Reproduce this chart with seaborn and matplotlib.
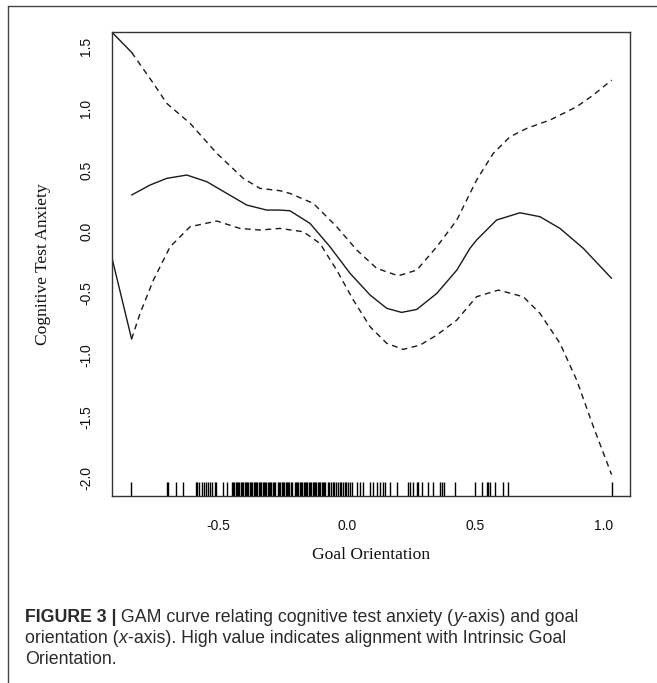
import matplotlib
matplotlib.use("Agg")
import matplotlib.pyplot as plt
from matplotlib.lines import Line2D
import seaborn as sns
import pandas as pd

# ---------------- data ----------------
fit_x = [-0.838, -0.766, -0.701, -0.623, -0.545, -0.467, -0.390, -0.312, -0.260, -0.221,
         -0.143, -0.065, 0.013, 0.091, 0.156, 0.214, 0.273, 0.351, 0.429, 0.480,
         0.506, 0.584, 0.675, 0.753, 0.831, 0.922, 1.032]
fit_y = [0.298, 0.379, 0.433, 0.460, 0.406, 0.311, 0.217, 0.176, 0.176, 0.170,
         0.068, -0.122, -0.337, -0.513, -0.621, -0.654, -0.630, -0.500, -0.311, -0.135,
         -0.067, 0.095, 0.154, 0.122, 0.027, -0.135, -0.378]

upper_x = [-0.9155, -0.838, -0.753, -0.701, -0.610, -0.506, -0.403, -0.338, -0.260, -0.221,
           -0.130, -0.039, 0.039, 0.117, 0.201, 0.273, 0.351, 0.429, 0.506, 0.571,
           0.636, 0.701, 0.792, 0.896, 0.961, 1.032]
upper_y = [1.62, 1.455, 1.203, 1.041, 0.879, 0.636, 0.433, 0.352, 0.333, 0.311,
           0.230, 0.041, -0.148, -0.297, -0.357, -0.311, -0.122, 0.095, 0.419, 0.636,
           0.770, 0.838, 0.906, 1.014, 1.109, 1.23]

lower_x = [-0.9155, -0.838, -0.805, -0.753, -0.688, -0.610, -0.506, -0.416, -0.338, -0.260,
           -0.169, -0.104, -0.039, 0.026, 0.091, 0.156, 0.220, 0.286, 0.351, 0.429,
           0.506, 0.591, 0.688, 0.753, 0.831, 0.896, 0.961, 1.032]
lower_y = [-0.203, -0.87, -0.662, -0.392, -0.122, 0.041, 0.087, 0.027, 0.014, 0.027,
           0.0, -0.095, -0.311, -0.554, -0.77, -0.905, -0.954, -0.919, -0.838, -0.716,
           -0.527, -0.473, -0.527, -0.662, -0.905, -1.203, -1.581, -1.97]

rug_x = [-0.840, -0.701, -0.695, -0.665, -0.637, -0.587, -0.582, -0.574, -0.565, -0.556,
         -0.548, -0.539, -0.533, -0.526, -0.513, -0.509, -0.481, -0.467,
         -0.448, -0.443, -0.438, -0.433, -0.428, -0.423, -0.418, -0.413, -0.408, -0.403,
         -0.398, -0.393, -0.388, -0.383, -0.378, -0.373, -0.368, -0.363, -0.358, -0.353,
         -0.348, -0.343, -0.338, -0.333, -0.328, -0.323, -0.318, -0.313, -0.308, -0.303,
         -0.298, -0.293, -0.288, -0.283, -0.278, -0.268, -0.263, -0.258, -0.253, -0.248,
         -0.243, -0.238, -0.233, -0.228, -0.223, -0.218, -0.213, -0.203, -0.198, -0.193,
         -0.188, -0.183, -0.178, -0.173, -0.168, -0.163, -0.158, -0.153, -0.148, -0.143,
         -0.138, -0.133, -0.128, -0.123, -0.118, -0.113, -0.108, -0.103, -0.098, -0.093,
         -0.088, -0.083, -0.073, -0.068, -0.063, -0.053, -0.048, -0.043, -0.033, -0.028,
         -0.023, -0.013, -0.008, -0.003, 0.007, 0.012,
         0.019, 0.039, 0.052, 0.065, 0.091, 0.104, 0.117, 0.130, 0.143, 0.149,
         0.169, 0.195, 0.240, 0.247, 0.259, 0.273, 0.279, 0.292, 0.318, 0.337,
         0.363, 0.370, 0.379, 0.422, 0.500, 0.526, 0.545, 0.552, 0.558, 0.578,
         0.610, 0.630, 1.032]

x_ticks = [-0.5, 0.0, 0.5, 1.0]
x_tick_labels = ["-0.5", "0.0", "0.5", "1.0"]
y_ticks = [-2.0, -1.5, -1.0, -0.5, 0.0, 0.5, 1.0, 1.5]
y_tick_labels = ["-2.0", "-1.5", "-1.0", "-0.5", "0.0", "0.5", "1.0", "1.5"]

x_label = "Goal Orientation"
y_label = "Cognitive Test Anxiety"
caption_lines = [
    [("FIGURE 3 |", "bold", "normal"), (" GAM curve relating cognitive test anxiety (", "normal", "normal"),
     ("y", "normal", "italic"), ("-axis) and goal", "normal", "normal")],
    [("orientation (", "normal", "normal"), ("x", "normal", "italic"),
     ("-axis). High value indicates alignment with Intrinsic Goal", "normal", "normal")],
    [("Orientation.", "normal", "normal")],
]

# ---------------- style ----------------
sns.set_theme(style="white")
plt.rcParams["font.family"] = ["Liberation Sans", "DejaVu Sans"]
plt.rcParams["axes.unicode_minus"] = False

W, H = 657, 683
fig = plt.figure(figsize=(W / 100, H / 100), dpi=100)
fig.patch.set_facecolor("white")

L, R, T, B = 111.7, 630.0, 32.0, 496.0
ax = fig.add_axes([L / W, 1 - B / H, (R - L) / W, (B - T) / H])
ax.set_facecolor("white")

line_col = "#1a1a1a"
fit_df = pd.DataFrame({"x": fit_x, "y": fit_y})
up_df = pd.DataFrame({"x": upper_x, "y": upper_y})
lo_df = pd.DataFrame({"x": lower_x, "y": lower_y})

sns.lineplot(data=fit_df, x="x", y="y", ax=ax, color=line_col, lw=1.0,
             sort=False, estimator=None)
for df in (up_df, lo_df):
    # first (entry) segment drawn solid, rest dashed
    sns.lineplot(data=df.iloc[:2], x="x", y="y", ax=ax, color=line_col, lw=1.0,
                 sort=False, estimator=None)
    sns.lineplot(data=df.iloc[1:], x="x", y="y", ax=ax, color=line_col, lw=1.0,
                 sort=False, estimator=None)
    ax.lines[-1].set_dashes((4.2, 3.2))

sns.rugplot(x=rug_x, ax=ax, height=0.031, color="black", lw=0.9, expand_margins=False)

ax.set_xlim(-0.9155, 1.1037)
ax.set_ylim(-2.143, 1.62)
ax.set_xticks(x_ticks)
ax.set_xticklabels(x_tick_labels)
ax.set_yticks(y_ticks)
ax.set_yticklabels(y_tick_labels, rotation=90, va="center")
ax.set_xlabel("")
ax.set_ylabel("")

for s in ax.spines.values():
    s.set_visible(True)
    s.set_color("#333333")
    s.set_linewidth(1.0)

ax.tick_params(axis="both", direction="out", length=5.2, width=0.9, color="#333333",
               labelsize=10, labelcolor="#111111")
ax.tick_params(axis="x", pad=11)
ax.tick_params(axis="y", pad=8.2)

fig.text(371 / W, 1 - 555 / H, x_label, ha="center", va="center",
         fontfamily="Liberation Serif", fontsize=12.6, color="#111111")
fig.text(43 / W, 1 - 264 / H, y_label, ha="center", va="center", rotation=90,
         fontfamily="Liberation Serif", fontsize=12.6, color="#111111")

# outer frame
fig.add_artist(Line2D([8 / W, 8 / W], [0, 1 - 6 / H], transform=fig.transFigure,
                      color="#444444", lw=1.0))
fig.add_artist(Line2D([8 / W, 1], [1 - 6 / H, 1 - 6 / H], transform=fig.transFigure,
                      color="#444444", lw=1.0))

# caption
fig.canvas.draw()
renderer = fig.canvas.get_renderer()
baselines = [622, 643, 664]
for pieces, yb in zip(caption_lines, baselines):
    xpix = 25.0
    for txt, weight, style in pieces:
        t = fig.text(xpix / W, 1 - yb / H, txt, ha="left", va="baseline",
                     fontsize=12.8, fontweight=weight, fontstyle=style,
                     color="#2a2a2a", fontfamily=["Liberation Sans", "DejaVu Sans"])
        bb = t.get_window_extent(renderer=renderer)
        xpix += bb.width

fig.savefig("out.png", dpi=100, facecolor="white")
